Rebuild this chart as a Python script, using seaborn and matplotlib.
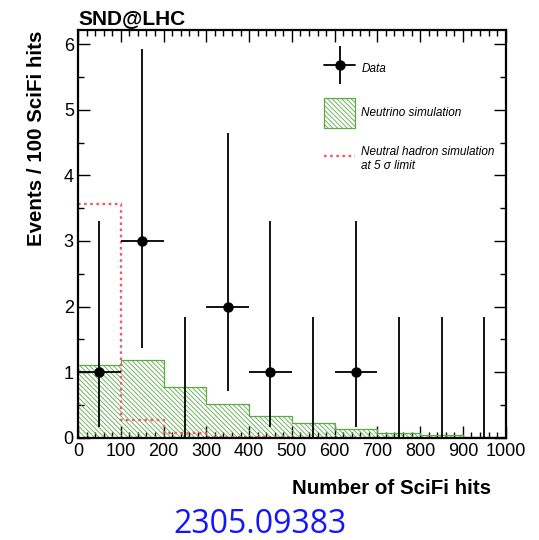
import numpy as np
import pandas as pd
import seaborn as sns
import matplotlib.pyplot as plt
from matplotlib.patches import Patch, Rectangle
from matplotlib.lines import Line2D
from matplotlib.legend_handler import HandlerTuple, HandlerPatch
from matplotlib.ticker import MultipleLocator

# Data
edges = [0, 100, 200, 300, 400, 500, 600, 700, 800, 900, 1000]
centers = [50, 150, 250, 350, 450, 550, 650, 750, 850, 950]
data_counts = [1, 3, 0, 2, 1, 0, 1, 0, 0, 0]
data_low = [0.17, 1.37, 0.0, 0.71, 0.17, 0.0, 0.17, 0.0, 0.0, 0.0]
data_high = [3.30, 5.92, 1.84, 4.64, 3.30, 1.84, 3.30, 1.84, 1.84, 1.84]
nu_sim = [1.11, 1.18, 0.77, 0.51, 0.33, 0.23, 0.13, 0.075, 0.045, 0.02]
hadron_sim = [3.56, 0.27, 0.08, 0.015, 0.01, 0.005, 0.004, 0.003, 0.002, 0.001]

sns.set_style("ticks")
plt.rcParams["font.family"] = ["Liberation Sans", "DejaVu Sans"]
plt.rcParams["hatch.linewidth"] = 0.6
for k in ["text.color", "axes.labelcolor", "xtick.color", "ytick.color", "axes.edgecolor"]:
    plt.rcParams[k] = "black"

green = "#5aaa46"
red = "#f25a6a"
hatch = "\\" * 7
dots = (0, (1.1, 1.5))

fig = plt.figure(figsize=(5.39, 5.40), dpi=100)
ax = fig.add_axes([0.1447, 0.189, 0.7935, 0.755])

df = pd.DataFrame({"x": centers, "nu": nu_sim, "had": hadron_sim})

# hatched neutrino histogram
sns.histplot(data=df, x="x", weights="nu", bins=edges, element="step", fill=True,
             ax=ax, color=green, linewidth=0.9)
poly = ax.collections[-1]
poly.set_facecolor("none")
poly.set_edgecolor(green)
poly.set_hatch(hatch)
poly.set_linewidth(0)

sns.histplot(data=df, x="x", weights="nu", bins=edges, element="step", fill=False,
             ax=ax, color=green, linewidth=0.9)
sns.histplot(data=df, x="x", weights="had", bins=edges, element="step", fill=False,
             ax=ax, color=red, linewidth=1.7, linestyle=dots)

# data points with asymmetric Poisson errors
counts = np.array(data_counts)
lo = counts - np.array(data_low)
hi = np.array(data_high) - counts
nz = counts > 0
cx = np.array(centers)
ax.errorbar(cx[nz], counts[nz], yerr=[lo[nz], hi[nz]], xerr=50, fmt="o",
            color="black", ms=6.5, elinewidth=1.3, capsize=0, zorder=5)
ax.errorbar(cx[~nz], counts[~nz], yerr=[lo[~nz], hi[~nz]], fmt="none",
            ecolor="black", elinewidth=1.3, capsize=0, zorder=5)

ax.set_xlim(0, 1000)
ax.set_ylim(0, 6.21)
ax.xaxis.set_major_locator(MultipleLocator(100))
ax.xaxis.set_minor_locator(MultipleLocator(20))
ax.yaxis.set_major_locator(MultipleLocator(1))
ax.yaxis.set_minor_locator(MultipleLocator(0.5))
ax.tick_params(which="both", direction="in", top=True, right=True, labelsize=13,
               width=1.0, color="black", labelcolor="black")
ax.tick_params(which="major", length=8.5)
ax.tick_params(which="minor", length=4.5)
ax.tick_params(axis="x", pad=4)
ax.tick_params(axis="y", pad=3)
for s in ax.spines.values():
    s.set_linewidth(1.6)
    s.set_visible(True)
    s.set_color("black")

ax.set_xlabel("Number of SciFi hits", fontsize=14.8, fontweight="bold")
ax.xaxis.set_label_coords(0.965, -0.1)
ax.xaxis.label.set_horizontalalignment("right")
ax.set_ylabel("Events / 100 SciFi hits", fontsize=14.8, fontweight="bold")
ax.yaxis.set_label_coords(-0.075, 1.0)
ax.yaxis.label.set_horizontalalignment("right")

fig.text(0.145, 0.966, "SND@LHC", fontsize=15, fontweight="bold", va="center")
fig.text(0.482, 0.028, "2305.09383", fontsize=23, color="#1414ff",
         ha="center", va="center", family=["Open Sans", "DejaVu Sans"])


def tall_box(legend, orig_handle, xdescent, ydescent, width, height, fontsize):
    # square legend box, a bit taller than the row
    return Rectangle((-xdescent, -ydescent - 2.5), width, height + 5)


data_handle = (Line2D([], [], color="black", lw=1.3, marker="o", ms=6.5),
               Line2D([], [], color="black", ls="none", marker="|", ms=27, mew=1.3))
nu_handle = Patch(facecolor="none", edgecolor=green, hatch=hatch, linewidth=0.9)
handles = [
    data_handle,
    nu_handle,
    Line2D([], [], color=red, linewidth=1.7, linestyle=dots),
]
labels = ["Data", "Neutrino simulation", "Neutral hadron simulation\nat 5 σ limit"]
leg = ax.legend(handles, labels, loc="upper left", bbox_to_anchor=(0.551, 0.96),
                frameon=False, prop={"style": "italic", "size": 8.5},
                handlelength=2.6, handleheight=2.6, labelspacing=1.82,
                handletextpad=0.55,
                handler_map={tuple: HandlerTuple(ndivide=1),
                             nu_handle: HandlerPatch(patch_func=tall_box)})

fig.savefig("out.png", dpi=100)
